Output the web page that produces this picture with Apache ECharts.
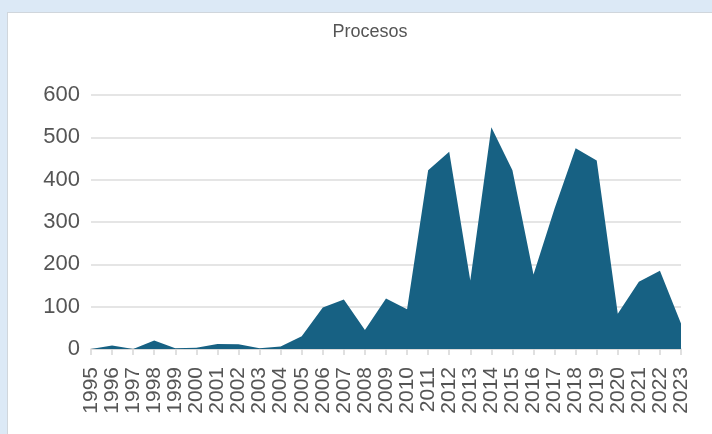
<!DOCTYPE html>
<html>
<head>
<meta charset="utf-8">
<script src="https://cdn.jsdelivr.net/npm/echarts@6/dist/echarts.min.js"></script>
<style>
  html, body { margin: 0; padding: 0; width: 712px; height: 434px; overflow: hidden; background: #dce9f6; }
  #panel { position: absolute; left: 7px; top: 12px; width: 720px; height: 440px; background: #fff; border: 1px solid #d0d6dc; box-sizing: border-box; }
  #chart { position: absolute; left: 0; top: 0; width: 712px; height: 434px; }
</style>
</head>
<body>
<div id="panel"></div>
<div id="chart"></div>
<script>
// Yearly count of processes
const years = ['1995','1996','1997','1998','1999','2000','2001','2002','2003','2004',
  '2005','2006','2007','2008','2009','2010','2011','2012','2013','2014',
  '2015','2016','2017','2018','2019','2020','2021','2022','2023'];
const procesos = [0, 8, 0, 20, 2, 3, 12, 11, 2, 6,
  30, 98, 117, 45, 119, 94, 422, 466, 162, 524,
  422, 176, 332, 474, 445, 83, 159, 185, 60];
const yTicks = { min: 0, max: 600, interval: 100 };

const chart = echarts.init(document.getElementById('chart'), null, { renderer: 'canvas' });
chart.setOption({
  backgroundColor: 'transparent',
  animation: false,
  title: {
    text: 'Procesos',
    left: 365,
    textAlign: 'center',
    top: 18,
    textStyle: { fontFamily: 'Liberation Sans', fontSize: 18, fontWeight: 'normal', color: '#555' }
  },
  grid: { left: 91, right: 31, top: 95, bottom: 85, containLabel: false },
  xAxis: {
    type: 'category',
    data: years,
    boundaryGap: false,
    axisLine: { lineStyle: { color: '#d6d6d6', width: 1.5 } },
    axisTick: { show: true, length: 6, interval: 0, lineStyle: { color: '#d6d6d6', width: 1.5 } },
    axisLabel: {
      interval: 0, rotate: 90, margin: 18,
      fontFamily: 'Liberation Sans', fontSize: 21, color: '#555'
    },
    splitLine: { show: false }
  },
  yAxis: {
    type: 'value',
    min: yTicks.min, max: yTicks.max, interval: yTicks.interval,
    axisLine: { show: false },
    axisTick: { show: false },
    axisLabel: { margin: 11, fontFamily: 'Liberation Sans', fontSize: 22, color: '#555' },
    splitLine: { lineStyle: { color: '#dcdcdc', width: 1.5 } }
  },
  series: [{
    name: 'Procesos',
    type: 'line',
    data: procesos,
    symbol: 'none',
    lineStyle: { width: 0, color: '#176183' },
    areaStyle: { color: '#176183', opacity: 1 },
    itemStyle: { color: '#176183' }
  }]
});
</script>
</body>
</html>
